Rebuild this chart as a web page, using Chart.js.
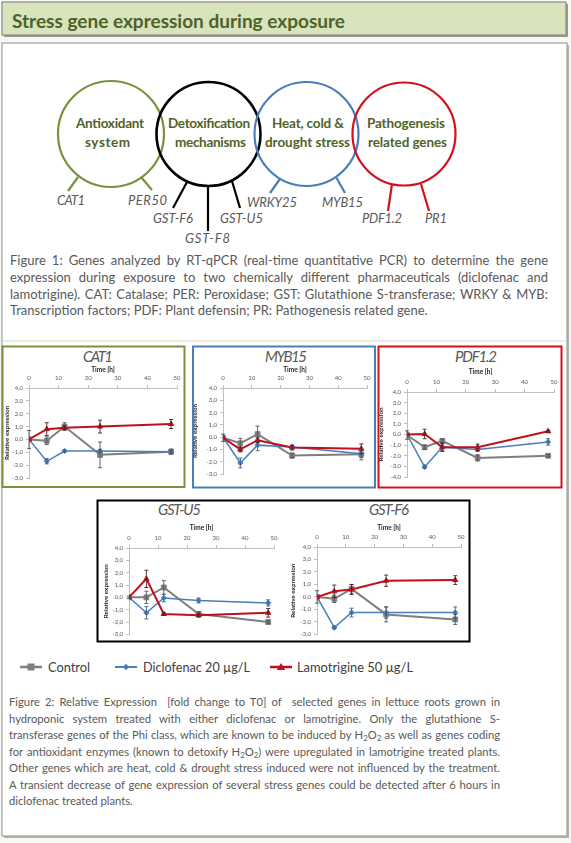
<!DOCTYPE html>
<html>
<head>
<meta charset="utf-8">
<title>Stress gene expression during exposure</title>
<script src="https://cdn.jsdelivr.net/npm/chart.js@4.4.1/dist/chart.umd.min.js"></script>
<style>
  html, body { margin: 0; padding: 0; background: #f7f7f5; }
  #poster { position: relative; width: 571px; height: 843px; overflow: hidden; font-family: Lato, "Open Sans", sans-serif; }
  #art { position: absolute; left: 0; top: 0; }
  canvas.plot { position: absolute; }
  .caption { position: absolute; color: #595959; font-family: Lato, sans-serif; font-size: 12px; }
  .caption div { text-align: justify; text-align-last: justify; }
  .caption div.last { text-align-last: left; }
  .caption.measure div { text-align: left; text-align-last: left; white-space: nowrap; }
  .caption sub { font-size: 0.7em; vertical-align: -0.3em; line-height: 0; }
  svg text { font-family: Lato, sans-serif; }
</style>
</head>
<body>
<div id="poster">
  <svg id="art" width="571" height="843" viewBox="0 0 571 843">
    <!-- header bar -->
    <rect x="4" y="4" width="564" height="33" fill="#9a9a90"/>
    <rect x="2" y="2" width="564" height="33" fill="#d7e4bd" stroke="#8c8c80" stroke-width="1.2"/>
    <text x="12" y="27.5" font-size="19.5" font-weight="700" fill="#4f6228" textLength="333" lengthAdjust="spacingAndGlyphs">Stress gene expression during exposure</text>

    <!-- main panel -->
    <rect x="4" y="45" width="565" height="793" fill="#b4b4ac"/>
    <rect x="2" y="43" width="565" height="793" fill="#ffffff" stroke="#a0a09a" stroke-width="1.2"/>
    <line x1="3" y1="341" x2="566" y2="341" stroke="#e4ead8" stroke-width="1.5"/>

    <!-- gene groups -->
    <g fill="none" stroke-width="2.2">
      <circle cx="111" cy="134" r="53" stroke="#77933c"/>
      <circle cx="208.5" cy="134" r="52" stroke="#000000" stroke-width="2.6"/>
      <circle cx="306.5" cy="134" r="52" stroke="#4a7ebb"/>
      <circle cx="404" cy="134" r="51.5" stroke="#d2101e"/>
      <line x1="78" y1="177" x2="68" y2="191" stroke="#77933c"/>
      <line x1="141" y1="177" x2="152" y2="190" stroke="#77933c"/>
      <line x1="187" y1="182" x2="173" y2="208" stroke="#000000"/>
      <line x1="208" y1="186" x2="208" y2="231" stroke="#000000"/>
      <line x1="232" y1="181" x2="240" y2="208" stroke="#000000"/>
      <line x1="280" y1="179" x2="270" y2="193" stroke="#4a7ebb"/>
      <line x1="336" y1="177" x2="345" y2="193" stroke="#4a7ebb"/>
      <line x1="392" y1="184" x2="388" y2="211" stroke="#d2101e"/>
      <line x1="421" y1="184" x2="429" y2="211" stroke="#d2101e"/>
    </g>
    <g font-size="13.5" font-weight="700" fill="#4f6228" lengthAdjust="spacingAndGlyphs">
      <text x="76" y="128" textLength="68">Antioxidant</text>
      <text x="85" y="146.5" textLength="45">system</text>
      <text x="168" y="128" textLength="82">Detoxification</text>
      <text x="175" y="146.5" textLength="71">mechanisms</text>
      <text x="272" y="128" textLength="72">Heat, cold &amp;</text>
      <text x="265" y="146.5" textLength="85">drought stress</text>
      <text x="367" y="128" textLength="78">Pathogenesis</text>
      <text x="368" y="146.5" textLength="79">related genes</text>
    </g>
    <g font-size="13" font-style="italic" fill="#595959" lengthAdjust="spacingAndGlyphs">
      <text x="57" y="205" textLength="28">CAT1</text>
      <text x="128" y="205" textLength="39">PER50</text>
      <text x="153" y="223" textLength="40">GST-F6</text>
      <text x="220" y="223" textLength="43">GST-U5</text>
      <text x="185" y="243" textLength="45">GST-F8</text>
      <text x="247" y="207" textLength="50">WRKY25</text>
      <text x="322" y="207" textLength="41">MYB15</text>
      <text x="362" y="223" textLength="40">PDF1.2</text>
      <text x="425" y="223" textLength="22">PR1</text>
    </g>

    <!-- frames around the expression plots -->
    <g fill="none" stroke-width="2">
      <rect x="2.5" y="346.5" width="182" height="140.5" stroke="#77933c"/>
      <rect x="193" y="346.5" width="182" height="141" stroke="#4a7ebb"/>
      <rect x="378.5" y="346.5" width="183" height="141" stroke="#d2101e"/>
      <rect x="97.5" y="500.5" width="372" height="141" stroke="#000000"/>
    </g>
    <g font-size="15" font-style="italic" fill="#595959" lengthAdjust="spacingAndGlyphs">
      <text x="83" y="362" textLength="30">CAT1</text>
      <text x="265" y="362" textLength="42">MYB15</text>
      <text x="455" y="362" textLength="42">PDF1.2</text>
      <text x="158" y="515" textLength="43">GST-U5</text>
      <text x="369" y="515" textLength="40">GST-F6</text>
    </g>

    <!-- legend -->
    <g id="legend" font-size="14" fill="#404040" lengthAdjust="spacingAndGlyphs"></g>
  </svg>

  <canvas class="plot" id="cat1"></canvas>
  <canvas class="plot" id="myb15"></canvas>
  <canvas class="plot" id="pdf12"></canvas>
  <canvas class="plot" id="gstu5"></canvas>
  <canvas class="plot" id="gstf6"></canvas>

  <div class="caption" id="fig1" style="left:10px; top:252px; width:538px; line-height:16.8px;">
    <div><span>Figure 1: Genes analyzed by RT-qPCR (real-time quantitative PCR) to determine the gene</span></div>
    <div><span>expression during exposure to two chemically different pharmaceuticals (diclofenac and</span></div>
    <div><span>lamotrigine). CAT: Catalase; PER: Peroxidase; GST: Glutathione S-transferase; WRKY &amp; MYB:</span></div>
    <div class="last"><span>Transcription factors; PDF: Plant defensin; PR: Pathogenesis related gene.</span></div>
  </div>

  <div class="caption" id="fig2" style="left:9px; top:694px; width:491px; line-height:16.5px;">
    <div><span>Figure 2: Relative Expression&nbsp; [fold change to T0] of&nbsp; selected genes in lettuce roots grown in</span></div>
    <div><span>hydroponic system treated with either diclofenac or lamotrigine. Only the glutathione S-</span></div>
    <div><span>transferase genes of the Phi class, which are known to be induced by H<sub>2</sub>O<sub>2</sub> as well as genes coding</span></div>
    <div><span>for antioxidant enzymes (known to detoxify H<sub>2</sub>O<sub>2</sub>) were upregulated in lamotrigine treated plants.</span></div>
    <div><span>Other genes which are heat, cold &amp; drought stress induced were not influenced by the treatment.</span></div>
    <div><span>A transient decrease of gene expression of several stress genes could be detected after 6 hours in</span></div>
    <div class="last"><span>diclofenac treated plants.</span></div>
  </div>
</div>

<script>
// sampling times (hours after T0)
const hours = [0, 6, 12, 24, 48];
const seriesNames = ['Control', 'Diclofenac 20 µg/L', 'Lamotrigine 50 µg/L'];

// relative expression (fold change to T0) and error bar half-widths
const cat1Control = [0.0, -0.1, 1.0, -1.2, -0.95];
const cat1Diclofenac = [0.0, -1.7, -0.9, -0.9, -0.95];
const cat1Lamotrigine = [0.0, 0.8, 0.9, 1.0, 1.2];
const cat1ControlErr = [0.7, 0.3, 0.3, 1.0, 0.2];
const cat1DiclofenacErr = [0, 0.2, 0.1, 0.1, 0.1];
const cat1LamotrigineErr = [0, 0.5, 0.15, 0.5, 0.35];

const myb15Control = [-0.05, -0.5, 0.25, -1.5, -1.4];
const myb15Diclofenac = [0.0, -2.1, -0.65, -0.8, -1.35];
const myb15Lamotrigine = [-0.05, -1.0, -0.25, -0.85, -0.95];
const myb15ControlErr = [0.3, 0.4, 0.65, 0.2, 0.45];
const myb15DiclofenacErr = [0, 0.4, 0.45, 0.1, 0.3];
const myb15LamotrigineErr = [0, 0.2, 0.2, 0.2, 0.4];

const pdf12Control = [-0.05, -1.2, -0.6, -2.2, -2.0];
const pdf12Diclofenac = [0.0, -3.05, -1.2, -1.4, -0.7];
const pdf12Lamotrigine = [0.0, 0.05, -1.2, -1.2, 0.3];
const pdf12ControlErr = [0.4, 0.2, 0.2, 0.3, 0.1];
const pdf12DiclofenacErr = [0, 0.15, 0.3, 0.2, 0.3];
const pdf12LamotrigineErr = [0, 0.45, 0.4, 0.3, 0.1];

const gstu5Control = [0.0, 0.0, 0.8, -1.35, -2.0];
const gstu5Diclofenac = [0.0, -1.25, -0.05, -0.25, -0.45];
const gstu5Lamotrigine = [0.0, 1.5, -1.35, -1.45, -1.25];
const gstu5ControlErr = [0.1, 0.5, 0.55, 0.2, 0.1];
const gstu5DiclofenacErr = [0, 0.5, 0.3, 0.2, 0.25];
const gstu5LamotrigineErr = [0, 0.7, 0.1, 0.15, 0.35];

const gstf6Control = [0.0, -0.15, 0.65, -1.4, -1.8];
const gstf6Diclofenac = [0.0, -2.45, -1.25, -1.25, -1.25];
const gstf6Lamotrigine = [0.0, 0.45, 0.6, 1.3, 1.35];
const gstf6ControlErr = [0.5, 0.3, 0.35, 0.6, 0.4];
const gstf6DiclofenacErr = [0, 0.1, 0.35, 0.45, 0.45];
const gstf6LamotrigineErr = [0, 0.5, 0.4, 0.45, 0.35];

// line look per treatment
const seriesStyles = [
  { color: '#7f7f7f', err: '#555555', width: 2, point: 'rect', radius: 3.4, order: 2 },
  { color: '#4a7ebb', err: '#3b5f8a', width: 1.5, point: 'rectRot', radius: 2.6, order: 1 },
  { color: '#c0101c', err: '#4a2020', width: 2, point: 'triangle', radius: 3, order: 0 }
];

// canvas placement and axis sizes for each plot
const panels = [
  { id: 'cat1', yMin: -3, left: 3, top: 362, width: 181, height: 124, yWidth: 26, xHeight: 26,
    pad: { left: 0, right: 4, top: 0, bottom: 8 }, timePad: 4, relPad: 0,
    series: [cat1Control, cat1Diclofenac, cat1Lamotrigine],
    errors: [cat1ControlErr, cat1DiclofenacErr, cat1LamotrigineErr] },
  { id: 'myb15', yMin: -3, left: 191, top: 362, width: 183, height: 124, yWidth: 32, xHeight: 26,
    pad: { left: 0, right: 6, top: 0, bottom: 12 }, timePad: 4, relPad: 0,
    series: [myb15Control, myb15Diclofenac, myb15Lamotrigine],
    errors: [myb15ControlErr, myb15DiclofenacErr, myb15LamotrigineErr] },
  { id: 'pdf12', yMin: -4, left: 377, top: 362, width: 184, height: 124, yWidth: 30, xHeight: 30,
    pad: { left: 0, right: 6, top: 0, bottom: 9 }, timePad: 6, relPad: 0,
    series: [pdf12Control, pdf12Diclofenac, pdf12Lamotrigine],
    errors: [pdf12ControlErr, pdf12DiclofenacErr, pdf12LamotrigineErr] },
  { id: 'gstu5', yMin: -3, left: 99, top: 515, width: 185, height: 126, yWidth: 30, xHeight: 33,
    pad: { left: 0, right: 10, top: 0, bottom: 5 }, timePad: 9, relPad: 3,
    series: [gstu5Control, gstu5Diclofenac, gstu5Lamotrigine],
    errors: [gstu5ControlErr, gstu5DiclofenacErr, gstu5LamotrigineErr] },
  { id: 'gstf6', yMin: -3, left: 288, top: 515, width: 180, height: 126, yWidth: 29, xHeight: 32,
    pad: { left: 0, right: 5, top: 0, bottom: 3 }, timePad: 9, relPad: 1.5,
    series: [gstf6Control, gstf6Diclofenac, gstf6Lamotrigine],
    errors: [gstf6ControlErr, gstf6DiclofenacErr, gstf6LamotrigineErr] }
];

// vertical error bars with small caps
const errorBars = {
  id: 'errorBars',
  afterDatasetsDraw(chart) {
    const { ctx, scales: { x, y } } = chart;
    ctx.save();
    ctx.lineWidth = 0.9;
    chart.data.datasets.forEach(ds => {
      ctx.strokeStyle = ds.errColor;
      ds.data.forEach((pt, j) => {
        const e = ds.errors[j];
        if (!e) return;
        const px = x.getPixelForValue(pt.x);
        const top = y.getPixelForValue(pt.y + e);
        const bot = y.getPixelForValue(pt.y - e);
        ctx.beginPath();
        ctx.moveTo(px, top); ctx.lineTo(px, bot);
        ctx.moveTo(px - 2, top); ctx.lineTo(px + 2, top);
        ctx.moveTo(px - 2, bot); ctx.lineTo(px + 2, bot);
        ctx.stroke();
      });
    });
    ctx.restore();
  }
};

const family = 'Lato, sans-serif';

function makeChart(p) {
  const canvas = document.getElementById(p.id);
  canvas.width = p.width;
  canvas.height = p.height;
  canvas.style.left = p.left + 'px';
  canvas.style.top = p.top + 'px';

  return new Chart(canvas, {
    type: 'line',
    data: {
      datasets: seriesStyles.map((s, k) => ({
        label: seriesNames[k],
        data: hours.map((h, i) => ({ x: h, y: p.series[k][i] })),
        errors: p.errors[k],
        errColor: s.err,
        borderColor: s.color,
        backgroundColor: s.color,
        borderWidth: s.width,
        pointStyle: s.point,
        pointRadius: s.radius,
        pointBorderWidth: 1,
        order: s.order,
        tension: 0
      }))
    },
    options: {
      responsive: false,
      animation: false,
      events: [],
      layout: { padding: p.pad },
      plugins: { legend: { display: false }, tooltip: { enabled: false } },
      scales: {
        x: {
          type: 'linear',
          position: 'top',
          min: 0,
          max: 50,
          ticks: { stepSize: 10, maxRotation: 0, padding: 3.5, color: '#595959', font: { size: 6, family } },
          grid: { drawOnChartArea: false, tickLength: 3, color: '#bfbfbf' },
          border: { color: '#bfbfbf' },
          title: { display: true, text: 'Time [h]', color: '#262626',
                   font: { size: 6.5, weight: 'bold', family }, padding: { top: p.timePad, bottom: 0 } },
          afterFit: s => { s.height = p.xHeight; }
        },
        y: {
          type: 'linear',
          min: p.yMin,
          max: 4,
          ticks: { stepSize: 1, padding: 3, color: '#595959', font: { size: 6, family },
                   callback: v => v.toFixed(1).replace('.', ',') },
          grid: { drawOnChartArea: false, tickLength: 3, color: '#bfbfbf' },
          border: { color: '#bfbfbf' },
          title: { display: true, text: 'Relative expression', color: '#262626',
                   font: { size: 6.3, weight: 'bold', family }, padding: { top: p.relPad, bottom: 0 } },
          afterFit: s => { s.width = p.yWidth; }
        }
      }
    },
    plugins: [errorBars]
  });
}

panels.forEach(makeChart);

// shared legend under the plots
const legendItems = [
  { x: 20, textX: 48, len: 42 },
  { x: 115, textX: 143, len: 107 },
  { x: 270, textX: 297, len: 116 }
];
const NS = 'http://www.w3.org/2000/svg';
const legend = document.getElementById('legend');
legendItems.forEach((it, k) => {
  const s = seriesStyles[k];
  const cy = 667;
  const line = document.createElementNS(NS, 'line');
  line.setAttribute('x1', it.x); line.setAttribute('x2', it.x + 22);
  line.setAttribute('y1', cy); line.setAttribute('y2', cy);
  line.setAttribute('stroke', s.color); line.setAttribute('stroke-width', s.width + 0.5);
  legend.appendChild(line);
  const cx = it.x + 11;
  let mark;
  if (s.point === 'rect') {
    mark = document.createElementNS(NS, 'rect');
    mark.setAttribute('x', cx - 3.5); mark.setAttribute('y', cy - 3.5);
    mark.setAttribute('width', 7); mark.setAttribute('height', 7);
  } else if (s.point === 'rectRot') {
    mark = document.createElementNS(NS, 'polygon');
    mark.setAttribute('points', `${cx},${cy - 3.2} ${cx + 3.2},${cy} ${cx},${cy + 3.2} ${cx - 3.2},${cy}`);
  } else {
    mark = document.createElementNS(NS, 'polygon');
    mark.setAttribute('points', `${cx},${cy - 4} ${cx + 4.2},${cy + 3} ${cx - 4.2},${cy + 3}`);
  }
  mark.setAttribute('fill', s.color);
  legend.appendChild(mark);
  const t = document.createElementNS(NS, 'text');
  t.setAttribute('x', it.textX); t.setAttribute('y', cy + 5);
  t.setAttribute('textLength', it.len);
  t.setAttribute('lengthAdjust', 'spacingAndGlyphs');
  t.textContent = seriesNames[k];
  legend.appendChild(t);
});

// size each caption's text so its justified lines keep their breaks
function fitCaptions() {
  const base = 12;
  document.querySelectorAll('.caption').forEach(c => {
    c.classList.add('measure');
    c.style.fontSize = base + 'px';
    const target = parseFloat(c.style.width);
    let size = 13;
    c.querySelectorAll('div:not(.last) span').forEach(sp => {
      const w = sp.getBoundingClientRect().width;
      size = Math.min(size, base * target * 0.985 / w);
    });
    c.style.fontSize = size + 'px';
    c.classList.remove('measure');
  });
}
fitCaptions();
</script>
</body>
</html>
